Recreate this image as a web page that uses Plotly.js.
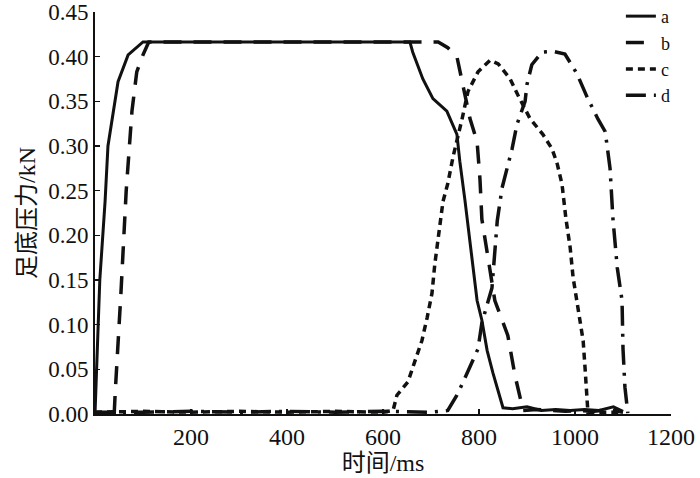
<!DOCTYPE html>
<html>
<head>
<meta charset="utf-8">
<script src="https://cdn.plot.ly/plotly-3.0.1.min.js"></script>
<style>html,body{margin:0;padding:0;background:#fff}#chart{width:700px;height:478px}</style>
</head>
<body>
<div id="chart"></div>
<script>
// ---- data (time in ms, force in kN) ----
const seriesNames = ["a", "b", "c", "d"];

const timeA = [0, 10, 21, 27, 48, 69, 100, 656, 662, 683, 704, 733, 754, 760, 771, 781, 796, 806, 817, 829, 850, 870, 900, 930, 960, 990, 1020, 1050, 1080, 1100];
const forceA = [0, 0.15, 0.238, 0.30, 0.372, 0.402, 0.4165, 0.4165, 0.405, 0.375, 0.353, 0.339, 0.313, 0.283, 0.238, 0.194, 0.127, 0.105, 0.071, 0.046, 0.007, 0.006, 0.008, 0.004, 0.005, 0.004, 0.005, 0.004, 0.008, 0.003];

const timeB = [40, 42, 54, 65, 77, 87, 100, 112, 715, 735, 754, 781, 796, 802, 806, 819, 833, 860, 875, 892, 920, 950, 980, 1010, 1040, 1070, 1100];
const forceB = [0.0, 0.023, 0.135, 0.25, 0.339, 0.383, 0.402, 0.4165, 0.4165, 0.41, 0.40, 0.331, 0.305, 0.263, 0.218, 0.175, 0.127, 0.088, 0.043, 0.004, 0.005, 0.004, 0.003, 0.004, 0.003, 0.005, 0.002];

const timeC = [0, 100, 200, 300, 400, 500, 600, 621, 629, 652, 667, 681, 692, 702, 708, 717, 725, 735, 746, 765, 777, 798, 823, 840, 865, 881, 906, 933, 952, 963, 973, 981, 990, 996, 1006, 1017, 1021, 1027, 1060, 1100];
const forceC = [0.002, 0.003, 0.002, 0.003, 0.002, 0.003, 0.002, 0.004, 0.021, 0.036, 0.060, 0.082, 0.108, 0.135, 0.168, 0.208, 0.238, 0.258, 0.288, 0.331, 0.361, 0.383, 0.396, 0.392, 0.375, 0.357, 0.331, 0.313, 0.297, 0.280, 0.257, 0.219, 0.186, 0.153, 0.116, 0.082, 0.051, 0.001, 0.002, 0.002];

const timeD = [0, 100, 200, 300, 400, 500, 600, 700, 735, 754, 767, 798, 806, 827, 838, 848, 869, 879, 896, 900, 910, 931, 954, 979, 1004, 1025, 1048, 1063, 1073, 1079, 1088, 1098, 1100, 1104, 1110];
const forceD = [0.002, 0.002, 0.003, 0.002, 0.003, 0.002, 0.003, 0.002, 0.004, 0.021, 0.036, 0.073, 0.102, 0.141, 0.216, 0.253, 0.297, 0.324, 0.350, 0.369, 0.391, 0.405, 0.406, 0.403, 0.381, 0.355, 0.330, 0.316, 0.275, 0.219, 0.164, 0.127, 0.073, 0.030, 0.001];

const xTickVals = [200, 400, 600, 800, 1000, 1200];
const yTickVals = [0, 0.05, 0.10, 0.15, 0.20, 0.25, 0.30, 0.35, 0.40, 0.45];

const xTitle = "时间/ms";
const yTitle = "足底压力/kN";

// ---- styling ----
const FONT = "Liberation Serif, Times New Roman, Noto Sans CJK SC, serif";
const dashes = ["solid", "18px,12px", "7px,5px", "20px,8px,3px,8px"];
const widths = [3, 3.5, 3.5, 3.5];
const xs = [timeA, timeB, timeC, timeD];
const ys = [forceA, forceB, forceC, forceD];

const traces = seriesNames.map((n, i) => ({
  x: xs[i], y: ys[i], name: n, type: "scatter", mode: "lines",
  line: {color: "#111", width: widths[i], dash: dashes[i]}
}));

const layout = {
  width: 700, height: 478,
  margin: {l: 95, r: 29, t: 12, b: 64, autoexpand: false},
  paper_bgcolor: "#fff", plot_bgcolor: "#fff",
  font: {family: FONT, size: 24, color: "#111"},
  showlegend: true,
  legend: {x: 0.913, y: 1.035, xanchor: "left", yanchor: "top",
           font: {family: FONT, size: 18, color: "#111"},
           bgcolor: "rgba(0,0,0,0)", tracegroupgap: 0},
  xaxis: {
    range: [0, 1200], tickvals: xTickVals, ticks: "inside", ticklen: 5, tickwidth: 1.5,
    tickcolor: "#111", showline: true, linecolor: "#111", linewidth: 2,
    showgrid: false, zeroline: false, tickfont: {family: FONT, size: 24},
    title: {text: xTitle, font: {family: FONT, size: 24}, standoff: 4}
  },
  yaxis: {
    range: [0, 0.45], tickvals: yTickVals, tickformat: ".2f", ticks: "inside", ticklen: 5, tickwidth: 1.5,
    ticklabeloverflow: "allow",
    tickcolor: "#111", showline: true, linecolor: "#111", linewidth: 2,
    showgrid: false, zeroline: false, tickfont: {family: FONT, size: 23},
    title: {text: yTitle, font: {family: FONT, size: 24}, standoff: 6}
  }
};

Plotly.newPlot("chart", traces, layout, {displayModeBar: false, staticPlot: true});
</script>
</body>
</html>
